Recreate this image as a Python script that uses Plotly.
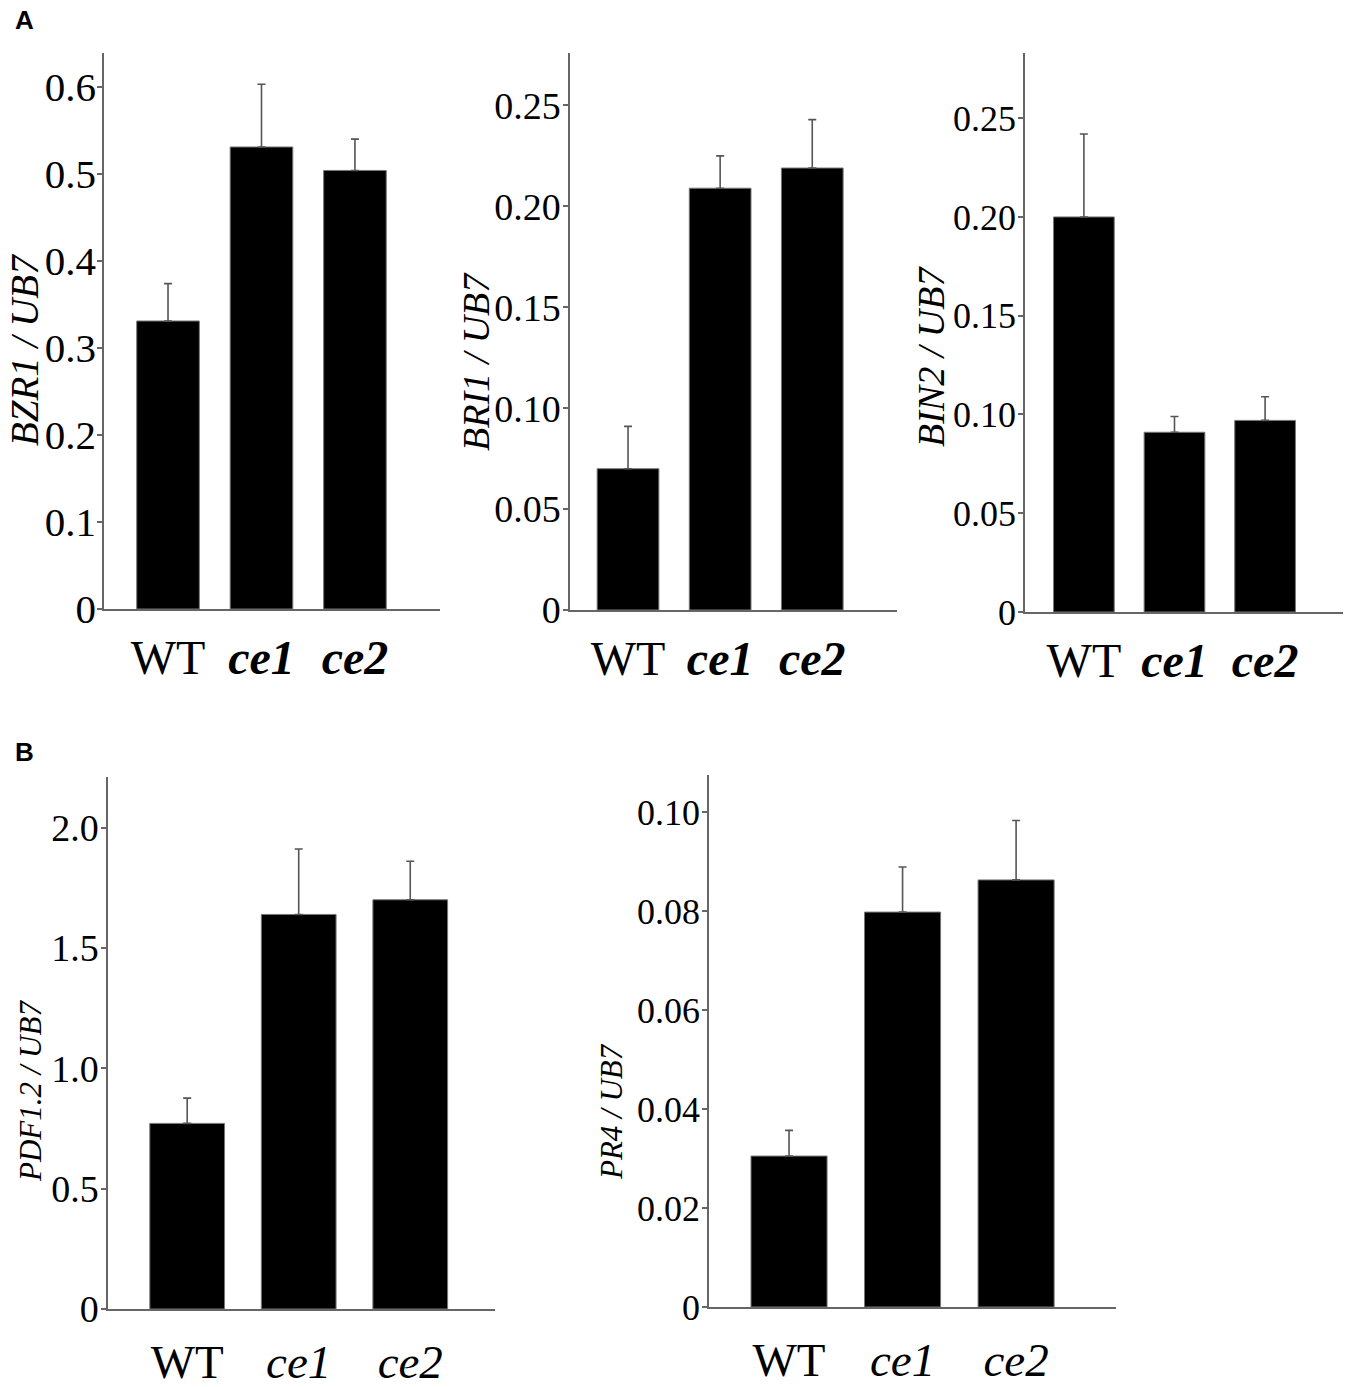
import plotly.graph_objects as go

W, H = 1350, 1387

categories = ["WT", "ce1", "ce2"]
cat_labels_a = ["WT", "<b><i>ce1</i></b>", "<b><i>ce2</i></b>"]
cat_labels_b = ["WT", "<i>ce1</i>", "<i>ce2</i>"]

bzr1_vals = [0.331, 0.531, 0.504]
bzr1_err = [0.043, 0.072, 0.036]

bri1_vals = [0.070, 0.209, 0.219]
bri1_err = [0.021, 0.016, 0.024]

bin2_vals = [0.200, 0.091, 0.097]
bin2_err = [0.042, 0.008, 0.012]

pdf12_vals = [0.771, 1.639, 1.700]
pdf12_err = [0.105, 0.272, 0.160]

pr4_vals = [0.0305, 0.0798, 0.0863]
pr4_err = [0.0052, 0.0091, 0.0120]

bzr1_ticks = [0, 0.1, 0.2, 0.3, 0.4, 0.5, 0.6]
bzr1_ticktext = ["0", "0.1", "0.2", "0.3", "0.4", "0.5", "0.6"]
bri_ticks = [0, 0.05, 0.10, 0.15, 0.20, 0.25]
bri_ticktext = ["0", "0.05", "0.10", "0.15", "0.20", "0.25"]
pdf_ticks = [0, 0.5, 1.0, 1.5, 2.0]
pdf_ticktext = ["0", "0.5", "1.0", "1.5", "2.0"]
pr4_ticks = [0, 0.02, 0.04, 0.06, 0.08, 0.10]
pr4_ticktext = ["0", "0.02", "0.04", "0.06", "0.08", "0.10"]

panels = [
    dict(vals=bzr1_vals, err=bzr1_err, title="<i>BZR1 / UB7</i>", tv=bzr1_ticks, tt=bzr1_ticktext,
         yr=[0, 0.639], xpx=(104, 440), ypx=(53, 609), xr=[-0.685, 2.91], tf=41, titf=39, cf=48,
         standoff=6, ystand=-7, cl=cat_labels_a, tpos=(24, 350)),
    dict(vals=bri1_vals, err=bri1_err, title="<i>BRI1 / UB7</i>", tv=bri_ticks, tt=bri_ticktext,
         yr=[0, 0.276], xpx=(570, 897), ypx=(53, 610), xr=[-0.63, 2.92], tf=38, titf=38, cf=48,
         standoff=6, ystand=-5, cl=cat_labels_a, tpos=(476, 361)),
    dict(vals=bin2_vals, err=bin2_err, title="<i>BIN2 / UB7</i>", tv=bri_ticks, tt=bri_ticktext,
         yr=[0, 0.283], xpx=(1025, 1343), ypx=(53, 612), xr=[-0.65, 2.86], tf=36, titf=38, cf=48,
         standoff=6, ystand=-5, cl=cat_labels_a, tpos=(931, 357)),
    dict(vals=pdf12_vals, err=pdf12_err, title="<i>PDF1.2 / UB7</i>", tv=pdf_ticks, tt=pdf_ticktext,
         yr=[0, 2.21], xpx=(108, 495), ypx=(777, 1309), xr=[-0.71, 2.76], tf=38, titf=31, cf=47,
         standoff=11, ystand=-5, cl=cat_labels_b, tpos=(30, 1091)),
    dict(vals=pr4_vals, err=pr4_err, title="<i>PR4 / UB7</i>", tv=pr4_ticks, tt=pr4_ticktext,
         yr=[0, 0.1075], xpx=(709, 1116), ypx=(775, 1307), xr=[-0.705, 2.88], tf=36, titf=31, cf=47,
         standoff=11, ystand=-5, cl=cat_labels_b, tpos=(611, 1112)),
]

fig = go.Figure()
layout = dict(
    width=W, height=H,
    margin=dict(l=0, r=0, t=0, b=0, autoexpand=False),
    paper_bgcolor="white", plot_bgcolor="white",
    showlegend=False,
)
annotations = []

for i, p in enumerate(panels, start=1):
    xa = "x" if i == 1 else f"x{i}"
    ya = "y" if i == 1 else f"y{i}"
    fig.add_trace(go.Bar(
        x=[0, 1, 2], y=p["vals"], xaxis=xa, yaxis=ya,
        width=0.67,
        marker=dict(color="black", line=dict(color="#777777", width=1)),
        error_y=dict(type="data", array=p["err"], arrayminus=[0, 0, 0], symmetric=False,
                     color="#555555", thickness=1.6, width=4),
    ))
    xd = [p["xpx"][0] / W, p["xpx"][1] / W]
    yd = [1 - p["ypx"][1] / H, 1 - p["ypx"][0] / H]
    xkey = "xaxis" if i == 1 else f"xaxis{i}"
    ykey = "yaxis" if i == 1 else f"yaxis{i}"
    layout[xkey] = dict(
        domain=xd, anchor=ya, range=p["xr"], automargin=False,
        tickmode="array", tickvals=[0, 1, 2], ticktext=p["cl"],
        showline=True, linecolor="#666666", linewidth=1.5,
        ticks="", showgrid=False, zeroline=False,
        tickfont=dict(family="Liberation Serif", size=p["cf"], color="black"),
        ticklabelstandoff=p["standoff"],
    )
    layout[ykey] = dict(
        domain=yd, anchor=xa, range=p["yr"], automargin=False,
        tickmode="array", tickvals=p["tv"], ticktext=p["tt"],
        showline=True, linecolor="#666666", linewidth=1.5,
        ticks="outside", ticklen=5, tickcolor="#666666", tickwidth=1.5,
        showgrid=False, zeroline=False,
        tickfont=dict(family="Liberation Serif", size=p["tf"], color="black"),
        ticklabelstandoff=p["ystand"],
    )
    annotations.append(dict(
        text=p["title"], x=p["tpos"][0] / W, y=1 - p["tpos"][1] / H,
        xref="paper", yref="paper", xanchor="center", yanchor="middle",
        textangle=-90, showarrow=False,
        font=dict(family="Liberation Serif", size=p["titf"], color="black"),
    ))

annotations += [
    dict(text="<b>A</b>", x=13 / W, y=1 - 20 / H, xref="paper", yref="paper",
         xanchor="left", yanchor="middle", showarrow=False,
         font=dict(family="Liberation Sans", size=26, color="black")),
    dict(text="<b>B</b>", x=13 / W, y=1 - 752 / H, xref="paper", yref="paper",
         xanchor="left", yanchor="middle", showarrow=False,
         font=dict(family="Liberation Sans", size=26, color="black")),
]
layout["annotations"] = annotations

fig.update_layout(**layout)
fig.write_html(
    "out.html",
    config={"displayModeBar": False},
    post_script="document.body.style.margin='0';document.body.style.padding='0';",
)
